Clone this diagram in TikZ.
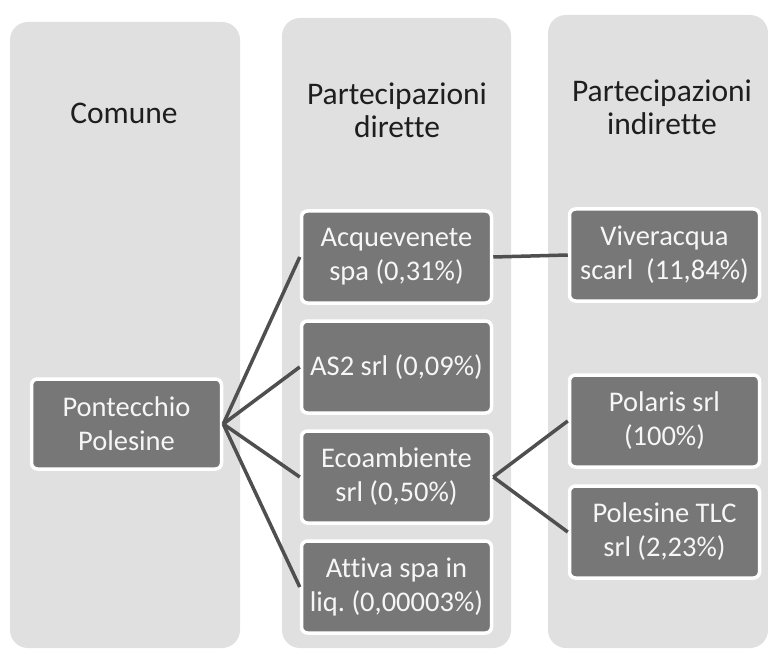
\documentclass[tikz,border=0pt]{standalone}
\usepackage{fontspec}
\setmainfont[Ligatures=NoCommon]{Carlito}
\frenchspacing
\definecolor{colbg}{HTML}{E0E0E0}
\definecolor{boxfill}{HTML}{777777}
\definecolor{linkcol}{HTML}{4F4F4F}
\definecolor{txtw}{HTML}{F6F6F6}
\definecolor{txtd}{HTML}{1E1E1E}
\begin{document}
\begin{tikzpicture}[x=1pt,y=-1pt,
  column/.style={fill=colbg, rounded corners=18pt},
  heading/.style={align=center, text=txtd, font=\fontsize{31.5}{34}\selectfont},
  entity/.style={draw=white, line width=3.5pt, fill=boxfill, rounded corners=6pt,
     text=txtw, align=center, font=\fontsize{28.5}{34}\selectfont\frenchspacing, inner sep=0pt,
     minimum width=190pt, minimum height=92pt},
  link/.style={draw=linkcol, line width=3.5pt}]
\useasboundingbox (0,0) rectangle (768,655);
\fill[white] (0,0) rectangle (768,655);
% columns
\path[column] (10,22) rectangle (240,648);
\path[column] (282,18) rectangle (511,648);
\path[column] (548,15) rectangle (768,648);
% headings
\node[heading, anchor=base] (h1) at (124,124) {Comune};
\node[heading, anchor=base] (h2a) at (397,105) {Partecipazioni};
\node[heading, anchor=base] (h2b) at (397,138) {dirette};
\node[heading, anchor=base] (h3a) at (662,102) {Partecipazioni};
\node[heading, anchor=base] (h3b) at (662,135) {indirette};
% entities
\node[entity, minimum height=90pt] (pp) at (126.5,424) {Pontecchio\\Polesine};
\node[entity] (aq) at (396.5,257) {Acquevenete\\spa (0,31\%)};
\node[entity] (as) at (396.5,367) {AS2 srl (0,09\%)};
\node[entity] (eco) at (396.5,477) {Ecoambiente\\srl (0,50\%)};
\node[entity] (att) at (396.5,587) {Attiva spa in\\liq. (0,00003\%)};
\node[entity] (viv) at (664.5,255) {Viveracqua\\scarl\ \ (11,84\%)};
\node[entity] (pol) at (664.5,421) {Polaris srl\\(100\%)};
\node[entity] (tlc) at (664.5,532) {Polesine TLC\\srl (2,23\%)};
% links
\draw[link] (pp.east) -- (aq.west);
\draw[link] (pp.east) -- (as.west);
\draw[link] (pp.east) -- (eco.west);
\draw[link] (pp.east) -- (att.west);
\draw[link] (aq.east) -- (viv.west);
\draw[link] (eco.east) -- (pol.west);
\draw[link] (eco.east) -- (tlc.west);
\end{tikzpicture}
\end{document}
